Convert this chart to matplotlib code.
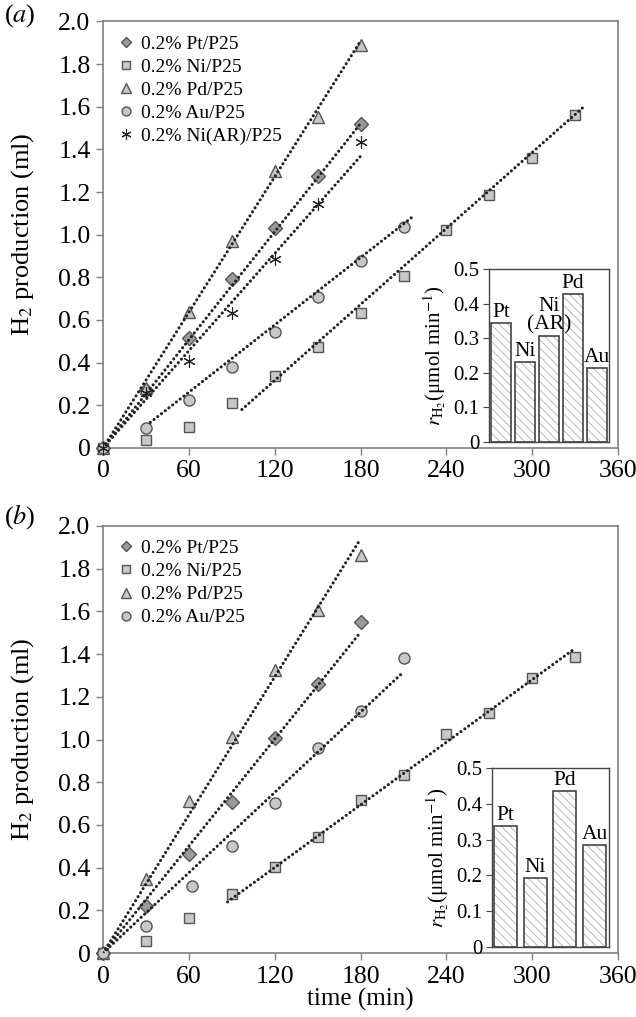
import matplotlib
matplotlib.use('Agg')
import matplotlib.pyplot as plt
import numpy as np

plt.rcParams['font.family'] = ['Liberation Serif', 'DejaVu Serif']
plt.rcParams['mathtext.fontset'] = 'stix'
plt.rcParams['hatch.linewidth'] = 0.6

# ---- panel (a) data ----
t_short = [0, 30, 60, 90, 120, 150, 180]
t_au = [0, 30, 60, 90, 120, 150, 180, 210]
t_ni = [0, 30, 60, 90, 120, 150, 180, 210, 240, 270, 300, 330]

pt_a = [0, 0.27, 0.515, 0.79, 1.03, 1.274, 1.52]
ni_a = [0, 0.038, 0.10, 0.21, 0.337, 0.473, 0.632, 0.806, 1.02, 1.185, 1.36, 1.56]
pd_a = [0, 0.28, 0.637, 0.97, 1.30, 1.55, 1.89]
au_a = [0, 0.095, 0.225, 0.38, 0.543, 0.707, 0.876, 1.035]
niar_a = [0, 0.26, 0.408, 0.632, 0.885, 1.143, 1.433]

# trend lines: slope, intercept, t start, t end
fit_pt_a = (0.00845, 0.0, 0, 180)
fit_ni_a = (0.00594, -0.396, 97, 336)
fit_pd_a = (0.0106, 0.0, 0, 180)
fit_au_a = (0.00526, -0.054, 33, 217)
fit_niar_a = (0.0076, 0.0, 0, 180)

bar_names_a = ['Pt', 'Ni', 'Ni\n(AR)', 'Pd', 'Au']
rates_a = [0.343, 0.230, 0.307, 0.427, 0.214]

# ---- panel (b) data ----
t_au_b = [0, 30, 62, 90, 120, 150, 180, 210]
pt_b = [0, 0.22, 0.464, 0.707, 1.005, 1.26, 1.55]
ni_b = [0, 0.056, 0.164, 0.276, 0.403, 0.543, 0.717, 0.834, 1.026, 1.124, 1.288, 1.387]
pd_b = [0, 0.347, 0.712, 1.012, 1.325, 1.607, 1.864]
au_b = [0, 0.126, 0.314, 0.501, 0.703, 0.96, 1.133, 1.38]

fit_pt_b = (0.00835, 0.0, 0, 180)
fit_ni_b = (0.00489, -0.186, 87, 329)
fit_pd_b = (0.01078, 0.0, 0, 179)
fit_au_b = (0.00627, 0.0, 0, 210)

bar_names_b = ['Pt', 'Ni', 'Pd', 'Au']
rates_b = [0.338, 0.193, 0.435, 0.284]

EDGE = '#555555'
SPINE = '#808080'
LIGHT = '#c8c8c8'
DARK = '#9a9a9a'


def trend(ax, fit):
    k, b, t0, t1 = fit
    x = np.array([t0, t1])
    ax.plot(x, k * x + b, color='#222222', lw=2.2, ls=(0, (0.05, 1.5)),
            dash_capstyle='round', zorder=5)


def style_main(ax):
    ax.set_xlim(0, 360)
    ax.set_ylim(0, 2.0)
    ax.set_xticks(range(0, 361, 60))
    ax.set_yticks(np.arange(0, 2.01, 0.2))
    ax.set_yticklabels(['0'] + ['%.1f' % v for v in np.arange(0.2, 2.01, 0.2)])
    for s in ax.spines.values():
        s.set_color(SPINE)
        s.set_linewidth(1.2)
    ax.tick_params(direction='out', length=5, width=1, color=SPINE,
                   labelsize=18.5, pad=4)
    ax.set_ylabel('H$_2$ production (ml)', fontsize=19)
    ax.yaxis.set_label_coords(-0.13, 0.5)


def pts(ax, t, v, marker, ms, label, fc=LIGHT):
    ax.plot(t, v, marker=marker, ls='none', ms=ms, mfc=fc, mec=EDGE, mew=1,
            label=label, zorder=3, clip_on=False)


def inset(fig, rect, names, rates, xlim, width):
    ia = fig.add_axes(rect)
    x = np.arange(len(rates))
    ia.bar(x, rates, width=width, color='white', edgecolor='#b0b0b0',
           hatch='\\\\\\\\', lw=0, zorder=2)
    ia.bar(x, rates, width=width, fill=False, edgecolor='#444444', lw=1.2,
           zorder=3)
    for xi, r, n in zip(x, rates, names):
        ia.text(xi, r + 0.003, n, ha='center', va='bottom', fontsize=15.5,
                linespacing=1.0)
    ia.set_xlim(*xlim)
    ia.set_ylim(0, 0.5)
    ia.set_xticks([])
    ia.set_yticks(np.arange(0, 0.51, 0.1))
    ia.set_yticklabels(['0'] + ['%.1f' % v for v in np.arange(0.1, 0.51, 0.1)])
    for s in ia.spines.values():
        s.set_color('#444444')
        s.set_linewidth(1.0)
    ia.tick_params(direction='out', length=4, color='#444444', labelsize=15, pad=3)
    ia.set_ylabel(r'$r_{\mathrm{H_2}}$(μmol min$^{-1}$)', fontsize=15)
    return ia


fig = plt.figure(figsize=(6.36, 10.17), dpi=100)

# ---------------- (a) ----------------
ax = fig.add_axes([0.162, 0.5595, 0.810, 0.4195])
pts(ax, t_short, pt_a, 'D', 7, '0.2% Pt/P25', DARK)
pts(ax, t_ni, ni_a, 's', 7, '0.2% Ni/P25')
pts(ax, t_short, pd_a, '^', 8.5, '0.2% Pd/P25')
pts(ax, t_au, au_a, 'o', 8, '0.2% Au/P25')
ax.plot(t_short, niar_a, marker=(6, 2, 0), ls='none', ms=9, mec='#222222', mew=0.8,
        label='0.2% Ni(AR)/P25', zorder=3, clip_on=False)
for f in [fit_pt_a, fit_ni_a, fit_pd_a, fit_au_a, fit_niar_a]:
    trend(ax, f)
style_main(ax)
ax.legend(loc='upper left', frameon=False, fontsize=14, markerscale=0.8,
          handletextpad=0.25, labelspacing=0.28, handlelength=1.0,
          borderaxespad=0.5, borderpad=0.2)
fig.text(0.006, 0.985, '($a$)', fontsize=19, va='center')

inset(fig, [0.769, 0.5654, 0.189, 0.170], bar_names_a, rates_a, (-0.5, 4.5), 0.82)

# ---------------- (b) ----------------
bx = fig.add_axes([0.162, 0.0629, 0.810, 0.4199])
pts(bx, t_short, pt_b, 'D', 7, '0.2% Pt/P25', DARK)
pts(bx, t_ni, ni_b, 's', 7, '0.2% Ni/P25')
pts(bx, t_short, pd_b, '^', 8.5, '0.2% Pd/P25')
pts(bx, t_au_b, au_b, 'o', 8, '0.2% Au/P25')
for f in [fit_pt_b, fit_ni_b, fit_pd_b, fit_au_b]:
    trend(bx, f)
style_main(bx)
bx.set_xlabel('time (min)', fontsize=18, labelpad=0)
bx.legend(loc='upper left', frameon=False, fontsize=14, markerscale=0.8,
          handletextpad=0.25, labelspacing=0.28, handlelength=1.0,
          borderaxespad=0.5, borderpad=0.2)
fig.text(0.006, 0.492, '($b$)', fontsize=19, va='center')

inset(fig, [0.774, 0.0688, 0.184, 0.176], bar_names_b, rates_b, (-0.45, 3.5), 0.78)

fig.savefig('out.png', dpi=100)
